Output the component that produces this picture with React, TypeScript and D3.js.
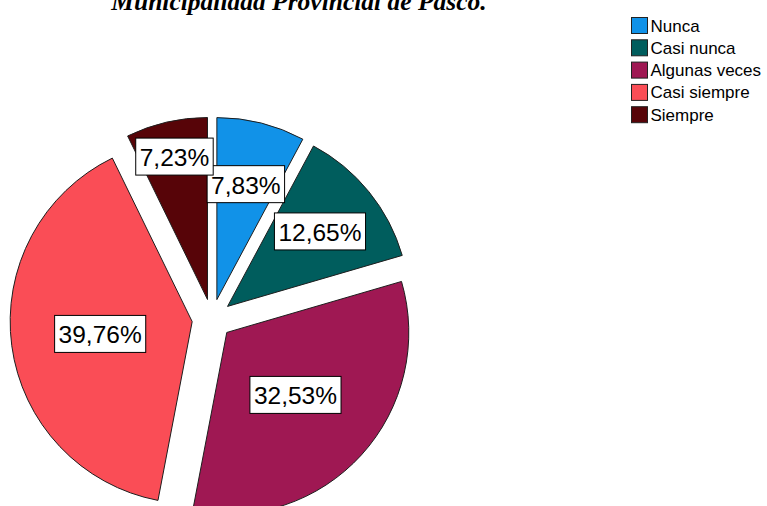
import React, { useEffect, useRef } from "react";
import * as d3 from "d3";

const categories = ["Nunca", "Casi nunca", "Algunas veces", "Casi siempre", "Siempre"];
const percentages = [7.83, 12.65, 32.53, 39.76, 7.23];
const labels = ["7,83%", "12,65%", "32,53%", "39,76%", "7,23%"];
const colors = ["#1192e8", "#005d5d", "#9f1853", "#fa4d56", "#570408"];
const labelRadiusFrac = [0.654, 0.654, 0.51, 0.51, 0.806];
const titleText = "Municipalidad Provincial de Pasco.";

const W = 767;
const H = 506;

export default function App() {
  const ref = useRef<SVGSVGElement | null>(null);

  useEffect(() => {
    const svg = d3.select(ref.current);
    svg.selectAll("*").remove();

    // Title (its first line lies above the visible area, as in the reference)
    svg
      .append("text")
      .attr("x", 299)
      .attr("y", 9.5)
      .attr("text-anchor", "middle")
      .style("font-family", "'Liberation Serif', 'Times New Roman', serif")
      .style("font-weight", "bold")
      .style("font-style", "italic")
      .style("font-size", "25.5px")
      .attr("fill", "#000")
      .text(titleText);

    const cx = 212;
    const cy = 319;
    const R = 182;
    const explode = 20;

    const pie = d3
      .pie<number>()
      .sort(null)
      .value((d) => d)
      .startAngle(0)
      .endAngle(2 * Math.PI);
    const arcs = pie(percentages);
    const arc = d3.arc<d3.PieArcDatum<number>>().innerRadius(0).outerRadius(R);

    const g = svg.append("g").attr("transform", `translate(${cx},${cy})`);

    arcs.forEach((a, i) => {
      const mid = (a.startAngle + a.endAngle) / 2;
      const ox = Math.sin(mid) * explode;
      const oy = -Math.cos(mid) * explode;
      g.append("path")
        .attr("d", arc(a) as string)
        .attr("transform", `translate(${ox},${oy})`)
        .attr("fill", colors[i])
        .attr("stroke", "#1e1e1e")
        .attr("stroke-width", 1)
        .attr("stroke-linejoin", "round");
    });

    arcs.forEach((a, i) => {
      const mid = (a.startAngle + a.endAngle) / 2;
      const ox = Math.sin(mid) * explode;
      const oy = -Math.cos(mid) * explode;
      const r = R * labelRadiusFrac[i];
      const lx = ox + Math.sin(mid) * r;
      const ly = oy - Math.cos(mid) * r;
      const lg = g.append("g").attr("transform", `translate(${lx},${ly})`);
      const rect = lg.append("rect").attr("fill", "#fff").attr("stroke", "#000").attr("stroke-width", 1);
      const t = lg
        .append("text")
        .attr("text-anchor", "middle")
        .attr("dominant-baseline", "central")
        .attr("y", 1)
        .style("font-family", "'Liberation Sans', Arial, sans-serif")
        .style("font-size", "24.5px")
        .attr("fill", "#000")
        .text(labels[i]);
      const tw = (t.node() as SVGTextElement).getComputedTextLength();
      const bw = tw + 8;
      const bh = 37;
      rect.attr("x", -bw / 2).attr("y", -bh / 2).attr("width", bw).attr("height", bh);
    });

    // Legend
    const legend = svg.append("g").attr("transform", "translate(631,17)");
    categories.forEach((c, i) => {
      const row = legend.append("g").attr("transform", `translate(0,${i * 22.3})`);
      row
        .append("rect")
        .attr("x", 0.5)
        .attr("y", 0.5)
        .attr("width", 16)
        .attr("height", 16)
        .attr("fill", colors[i])
        .attr("stroke", "#222")
        .attr("stroke-width", 1);
      row
        .append("text")
        .attr("x", 19.5)
        .attr("y", 9)
        .attr("dominant-baseline", "central")
        .style("font-family", "'Liberation Sans', Arial, sans-serif")
        .style("font-size", "17px")
        .attr("fill", "#000")
        .text(c);
    });
  }, []);

  return (
    <svg
      ref={ref}
      width={W}
      height={H}
      style={{ position: "absolute", left: 0, top: 0, background: "#fff" }}
    />
  );
}
